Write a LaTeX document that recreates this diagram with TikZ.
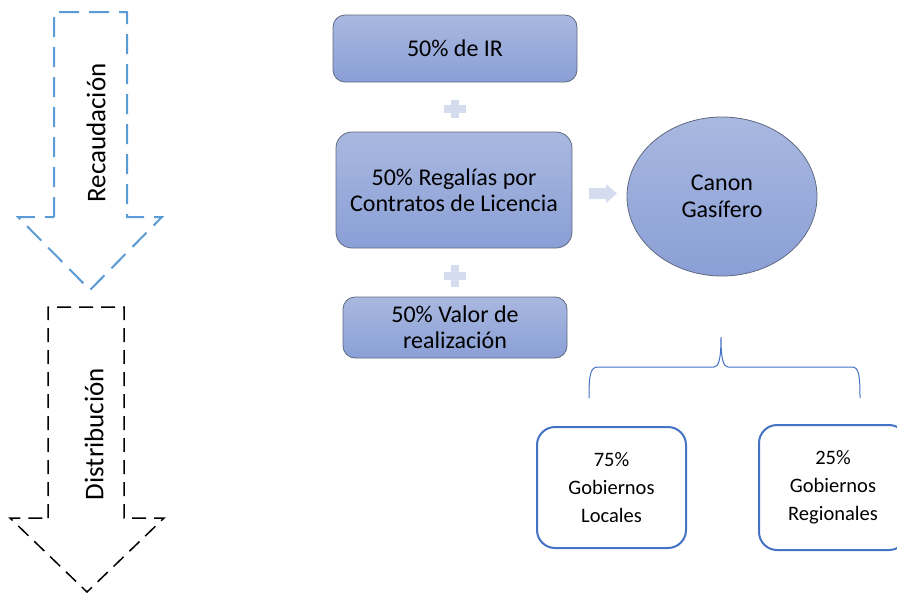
\documentclass[tikz,border=0pt]{standalone}
\usepackage{fontspec}
\setmainfont{Carlito}
\usetikzlibrary{shapes.geometric}
\definecolor{boxtop}{HTML}{A9B8E0}
\definecolor{boxbot}{HTML}{8A9FD6}
\definecolor{boxline}{HTML}{5F6A80}
\definecolor{pluscol}{HTML}{D6DCEF}
\definecolor{darkblue}{HTML}{4472C4}
\definecolor{dashblue}{HTML}{5B9BD5}
\begin{document}
\begin{tikzpicture}[x=1pt,y=-1pt,
  gradbox/.style={draw=boxline, line width=0.8pt, rounded corners=12pt, top color=boxtop, bottom color=boxbot, align=center, font=\fontsize{24}{26}\selectfont, inner sep=0pt},
  whitebox/.style={draw=darkblue, line width=2pt, rounded corners=18pt, fill=white, align=center, font=\fontsize{20.5}{28}\selectfont, inner sep=0pt},
  plussign/.style={fill=pluscol, draw=none},
  sidelabel/.style={rotate=90, font=\fontsize{27}{30}\selectfont},
]
\useasboundingbox (0,0) rectangle (897,592);

% left arrows
\draw[dashblue, line width=2pt, dash pattern=on 20pt off 10pt]
  (54,217) -- (54,12) -- (127,12) -- (127,217) -- (162,217) -- (90,290) -- (18,217) -- cycle;
\node[sidelabel] (rec) at (96,133) {Recaudación};
\draw[black, line width=1.5pt, dash pattern=on 14pt off 8pt]
  (48,518) -- (48,307) -- (124,307) -- (124,518) -- (164,518) -- (87,592) -- (10,518) -- cycle;
\node[sidelabel] (dis) at (94,434) {Distribución};

% gradient boxes
\node[gradbox, minimum width=244pt, minimum height=67pt] (ir) at (455,48.5) {50\% de IR};
\node[gradbox, minimum width=236pt, minimum height=116pt, rounded corners=16pt] (reg) at (454,190) {50\% Regalías por\\Contratos de Licencia};
\node[gradbox, minimum width=224pt, minimum height=61pt] (val) at (455,327.5) {50\% Valor de\\realización};

% plus signs
\fill[plussign] (451,100) rectangle (459,118);
\fill[plussign] (444,105) rectangle (466,113);
\fill[plussign] (451,265) rectangle (459,287);
\fill[plussign] (444,272) rectangle (466,280);

% arrow to canon
\fill[pluscol] (589,188) -- (606,188) -- (606,184) -- (617,193.5) -- (606,203) -- (606,199) -- (589,199) -- cycle;

% ellipse
\node[ellipse, draw=boxline, line width=0.8pt, top color=boxtop, bottom color=boxbot, minimum width=190pt, minimum height=159pt, inner sep=0pt, align=center, font=\fontsize{24}{27}\selectfont] (canon) at (722,196.5) {Canon\\Gasífero};

% brace
\coordinate (bl) at (589,398);
\coordinate (bt) at (721,337);
\coordinate (br) at (860,398);
\draw[darkblue, line width=1pt]
  (bl) .. controls (589,376) and (590,367) .. (598,367) -- (714,367)
  .. controls (719,367) and (721,358) .. (bt)
  .. controls (721,358) and (723,367) .. (728,367) -- (852,367)
  .. controls (859,367) and (860,376) .. (br);

% white boxes
\node[whitebox, minimum width=149pt, minimum height=121pt] (loc) at (611.5,487.5) {75\%\\Gobiernos\\Locales};
\node[whitebox, minimum width=148pt, minimum height=125pt] (regn) at (833,487.5) {25\%\\Gobiernos\\Regionales};
\end{tikzpicture}
\end{document}
